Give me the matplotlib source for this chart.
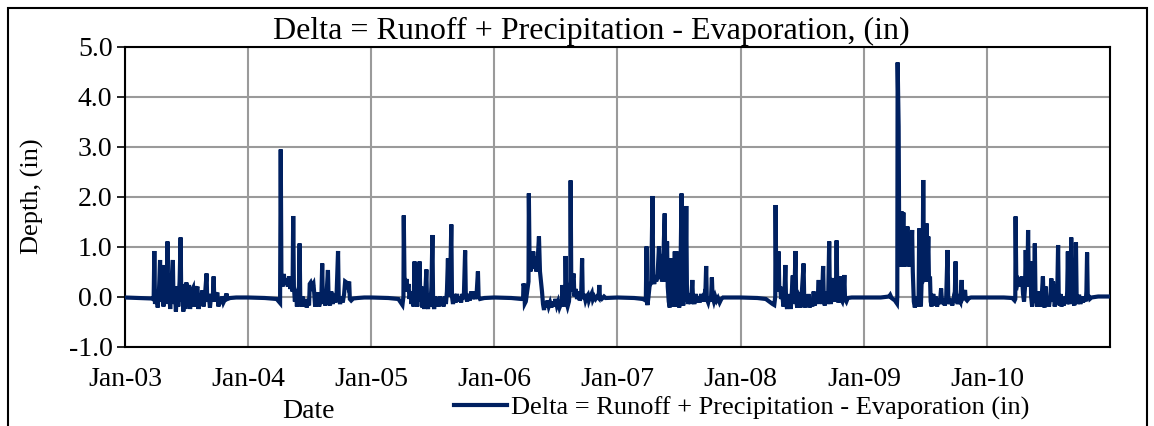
import datetime as dt
import matplotlib
matplotlib.use("Agg")
import matplotlib.pyplot as plt
from matplotlib.patches import Rectangle
from matplotlib.ticker import FixedLocator, FuncFormatter

plt.rcParams['font.family'] = ['Liberation Serif', 'DejaVu Serif']

# (day of year, depth in inches), one list per year
y2003 = [(0,-0.02),(45,-0.03),(80,-0.04),(85,-0.06),(87,0.91),(89,-0.15),(94,0.1),(97,-0.22),(101,0.15),(104,0.73),(106,-0.1),(109,0.05),(112,0.63),(114,-0.2),(118,0.2),(121,-0.15),(124,0.3),(126,1.10),(128,-0.1),(131,0.2),(134,-0.25),(138,0.3),(142,0.73),(144,-0.15),(148,0.1),(151,-0.3),(155,0.2),(158,-0.2),(162,0.3),(165,1.18),(167,-0.1),(170,0.25),(173,-0.3),(176,0.2),(179,-0.25),(182,0.28),(185,-0.2),(188,0.15),(190,0.23),(193,-0.25),(197,0.1),(202,0.17),(205,-0.2),(209,0.1),(215,0.2),(218,-0.25),(222,0.05),(226,-0.15),(229,0.12),(233,-0.2),(237,0.0),(242,0.46),(244,-0.1),(248,0.05),(252,-0.22),(256,0.05),(260,-0.1),(263,0.40),(265,-0.1),(269,0.0),(274,0.08),(277,-0.2),(281,-0.05),(285,-0.15),(288,0.0),(292,-0.12),(297,-0.05),(301,0.06),(304,-0.05),(312,-0.03),(330,-0.02),(364,-0.02)]
y2004 = [(0,-0.02),(50,-0.03),(85,-0.05),(95,-0.13),(97,2.94),(99,0.4),(103,0.2),(106,0.45),(110,0.25),(114,0.35),(118,0.2),(122,0.4),(126,0.15),(130,0.35),(132,0.1),(134,1.61),(136,0.2),(139,-0.1),(142,0.15),(145,-0.2),(148,0.05),(151,0.2),(153,1.06),(155,-0.1),(158,-0.2),(162,0.0),(166,-0.2),(170,-0.05),(174,-0.22),(178,-0.1),(181,-0.18),(183,0.25),(186,0.28),(190,0.2),(194,0.25),(196,0.1),(199,-0.2),(202,0.05),(205,-0.18),(208,0.08),(211,-0.2),(214,-0.05),(217,-0.15),(220,0.66),(222,-0.1),(226,0.0),(229,-0.18),(233,0.05),(237,0.53),(239,-0.05),(243,-0.18),(247,0.1),(251,-0.15),(255,0.05),(259,-0.12),(263,0.1),(267,0.91),(269,0.0),(273,-0.15),(277,0.0),(281,-0.12),(285,0.05),(288,0.3),(292,0.28),(296,0.2),(300,0.3),(302,-0.05),(306,-0.08),(312,-0.04),(325,-0.03),(345,-0.02),(365,-0.02)]
y2005 = [(0,-0.02),(50,-0.03),(80,-0.05),(92,-0.17),(95,0.0),(96,1.62),(98,0.4),(101,0.2),(104,0.35),(107,0.1),(110,0.25),(113,-0.05),(116,0.1),(119,-0.15),(122,0.0),(125,-0.2),(128,0.70),(130,-0.05),(133,0.15),(136,-0.2),(139,0.1),(143,0.70),(145,-0.1),(148,0.2),(151,-0.22),(154,0.0),(157,-0.25),(160,0.1),(163,0.54),(165,-0.1),(168,-0.25),(172,0.05),(175,-0.2),(178,0.2),(181,1.23),(183,-0.1),(186,-0.25),(190,0.0),(193,-0.2),(196,-0.05),(200,-0.2),(204,0.0),(207,-0.18),(211,-0.05),(214,-0.2),(218,0.0),(221,-0.15),(224,0.1),(227,0.76),(229,0.0),(233,0.1),(237,1.44),(239,0.0),(242,-0.15),(246,0.05),(250,-0.12),(254,0.05),(258,-0.1),(262,0.0),(266,-0.12),(270,0.05),(274,-0.05),(278,0.92),(280,0.0),(284,-0.1),(288,0.05),(292,-0.08),(296,0.1),(300,-0.05),(304,0.1),(308,-0.05),(312,0.05),(316,0.5),(318,0.0),(322,-0.05),(335,-0.03),(364,-0.02)]
y2006 = [(0,-0.02),(50,-0.03),(80,-0.05),(85,-0.04),(86,0.26),(88,0.2),(90,-0.14),(93,-0.1),(101,0.3),(102,2.06),(104,0.8),(107,0.5),(109,0.85),(112,0.6),(115,0.9),(118,0.55),(121,0.8),(124,0.5),(128,0.7),(132,1.2),(135,0.5),(138,0.3),(141,0.1),(144,-0.15),(147,-0.27),(150,-0.1),(153,-0.22),(157,-0.08),(161,-0.2),(165,-0.12),(169,-0.22),(173,-0.1),(177,-0.2),(181,-0.05),(185,-0.18),(189,-0.1),(193,-0.22),(197,-0.15),(200,-0.2),(201,0.23),(203,-0.1),(207,-0.2),(210,0.0),(211,0.81),(213,-0.1),(217,-0.2),(221,-0.1),(225,0.3),(226,2.32),(228,0.1),(231,0.3),(235,0.46),(237,0.0),(241,0.15),(245,-0.05),(249,0.1),(253,-0.08),(257,0.0),(260,0.76),(262,-0.05),(266,0.05),(270,-0.08),(274,0.0),(277,0.03),(280,-0.08),(284,0.0),(289,0.07),(292,-0.06),(296,0.0),(300,-0.05),(305,0.0),(309,-0.03),(311,0.23),(313,-0.02),(318,-0.05),(325,0.0),(330,-0.03),(364,-0.02)]
y2007 = [(0,-0.02),(50,-0.03),(75,-0.05),(84,-0.08),(86,1.0),(87,-0.1),(89,-0.17),(92,0.0),(95,0.2),(100,0.3),(104,2.01),(106,0.33),(109,0.25),(112,0.4),(115,0.3),(119,0.45),(123,1.0),(125,0.35),(128,0.4),(130,0.85),(132,0.3),(135,0.5),(140,1.66),(142,0.4),(145,0.3),(147,1.1),(149,0.2),(152,-0.1),(155,-0.22),(158,0.3),(160,0.76),(162,-0.2),(165,0.3),(168,-0.15),(170,0.9),(172,-0.2),(175,0.9),(177,-0.2),(180,0.2),(183,-0.22),(186,0.1),(190,2.06),(192,0.0),(195,-0.18),(198,0.1),(201,-0.1),(204,1.81),(206,0.1),(209,-0.15),(213,0.05),(217,-0.15),(220,0.1),(222,0.33),(224,-0.05),(228,-0.15),(232,0.05),(236,-0.12),(240,0.0),(244,-0.12),(248,0.05),(252,-0.1),(256,0.0),(260,-0.1),(263,0.61),(265,-0.05),(269,-0.12),(273,0.0),(277,-0.1),(280,0.38),(282,0.0),(286,-0.1),(290,0.0),(294,-0.08),(298,-0.03),(303,-0.12),(308,-0.05),(313,-0.02),(330,-0.02),(364,-0.02)]
y2008 = [(0,-0.02),(50,-0.03),(75,-0.05),(85,-0.1),(95,-0.15),(100,-0.17),(103,0.0),(104,1.83),(106,0.2),(108,0.1),(111,0.3),(113,0.9),(115,0.1),(118,0.2),(120,-0.05),(124,0.05),(127,-0.2),(130,0.0),(133,0.63),(135,-0.1),(138,-0.25),(141,0.05),(144,-0.2),(146,0.0),(149,-0.25),(152,0.1),(155,0.42),(157,-0.15),(160,0.1),(163,0.91),(165,-0.05),(168,-0.22),(171,0.05),(175,0.0),(178,-0.22),(182,0.1),(187,0.66),(189,-0.1),(192,-0.22),(196,0.0),(199,-0.2),(202,0.05),(205,-0.22),(209,-0.05),(213,-0.2),(217,0.1),(220,-0.18),(224,0.0),(228,-0.15),(232,0.33),(234,-0.1),(238,0.0),(241,-0.15),(245,0.61),(247,-0.05),(250,-0.18),(254,0.1),(257,-0.15),(260,0.0),(263,1.1),(265,0.0),(268,-0.15),(271,0.1),(274,0.37),(276,-0.1),(280,0.0),(283,0.1),(285,1.12),(287,0.1),(290,-0.12),(293,0.0),(296,0.4),(298,-0.05),(302,-0.1),(305,0.0),(308,0.43),(310,-0.05),(314,-0.1),(318,-0.03),(330,-0.02),(365,-0.02)]
y2009 = [(0,-0.02),(50,-0.02),(75,0.0),(78,0.03),(82,-0.03),(92,-0.08),(98,-0.14),(99,0.0),(100,4.68),(103,3.4),(105,0.66),(108,0.7),(111,0.6),(112,1.7),(114,0.65),(117,1.68),(119,0.6),(121,0.8),(124,0.7),(127,0.7),(129,1.4),(131,0.6),(134,0.7),(136,0.9),(139,0.6),(143,1.33),(145,0.5),(148,-0.1),(151,-0.22),(155,-0.1),(159,0.0),(162,-0.2),(164,1.36),(166,-0.1),(169,-0.2),(171,0.25),(174,0.3),(176,2.33),(178,0.3),(181,0.4),(184,0.3),(186,1.46),(188,0.4),(191,1.2),(193,0.3),(196,0.4),(198,-0.1),(201,-0.2),(204,0.0),(206,0.05),(209,-0.18),(213,0.0),(217,-0.2),(221,-0.05),(225,-0.15),(229,0.16),(232,-0.15),(236,-0.05),(240,-0.18),(244,-0.05),(248,0.93),(250,0.0),(254,-0.15),(258,-0.05),(262,-0.18),(266,-0.05),(269,-0.12),(272,0.7),(274,0.0),(278,-0.15),(282,-0.05),(286,-0.1),(290,0.33),(292,-0.05),(296,0.0),(300,0.13),(302,-0.05),(306,-0.08),(312,-0.03),(318,-0.02),(340,-0.02),(364,-0.02)]
y2010 = [(0,-0.02),(50,-0.02),(75,-0.03),(82,-0.08),(84,-0.05),(85,1.6),(87,0.3),(90,0.25),(93,0.35),(95,0.33),(98,0.2),(101,0.3),(104,0.4),(107,0.05),(110,-0.1),(113,0.2),(115,0.93),(117,0.3),(120,0.2),(122,1.33),(124,0.3),(127,0.2),(129,0.7),(131,0.0),(134,-0.2),(137,0.05),(140,0.2),(142,1.06),(144,0.0),(147,-0.1),(149,-0.2),(152,0.0),(156,0.1),(159,-0.2),(162,-0.05),(166,0.4),(168,-0.1),(171,-0.22),(174,0.2),(177,-0.15),(181,0.0),(184,-0.2),(188,0.0),(191,0.36),(193,-0.1),(196,0.3),(198,0.1),(201,-0.2),(205,0.0),(208,-0.15),(211,1.03),(213,-0.05),(216,-0.18),(218,0.05),(221,-0.2),(225,-0.05),(228,-0.18),(232,0.0),(236,-0.15),(238,0.1),(240,0.9),(242,-0.1),(245,-0.15),(248,0.3),(250,1.18),(252,0.3),(254,0.75),(256,-0.1),(259,-0.18),(262,0.1),(264,1.08),(266,0.0),(269,-0.15),(272,0.0),(274,0.0),(277,-0.15),(281,0.0),(285,-0.12),(289,0.0),(293,-0.1),(295,0.1),(297,0.88),(299,0.0),(302,0.0),(305,-0.05),(310,-0.02),(330,0.0),(364,0.0)]

years = [2003, 2004, 2005, 2006, 2007, 2008, 2009, 2010]
yearly = [y2003, y2004, y2005, y2006, y2007, y2008, y2009, y2010]
tick_labels = ["Jan-03", "Jan-04", "Jan-05", "Jan-06", "Jan-07", "Jan-08", "Jan-09", "Jan-10"]
y_ticks = [-1.0, 0.0, 1.0, 2.0, 3.0, 4.0, 5.0]

dates, values = [], []
for yr, pts in zip(years, yearly):
    for d, v in pts:
        dates.append(dt.datetime(yr, 1, 1) + dt.timedelta(days=d))
        values.append(v)

W, H = 1154, 426
fig = plt.figure(figsize=(W / 100, H / 100), dpi=100)
ax = fig.add_axes([125 / W, (H - 346.5) / H, 985 / W, 300 / H])

line_color = '#002060'
ax.plot(dates, values, color=line_color, lw=3.0, solid_joinstyle='miter',
        label="Delta = Runoff + Precipitation - Evaporation (in)", zorder=3)

ax.set_xlim(dt.datetime(2003, 1, 1), dt.datetime(2011, 1, 1))
ax.set_ylim(-1.0, 5.0)
tick_dates = [dt.datetime(y, 1, 1) for y in years]
ax.set_xticks(tick_dates)
ax.set_xticklabels(tick_labels)
ax.yaxis.set_major_locator(FixedLocator(y_ticks))
ax.yaxis.set_major_formatter(FuncFormatter(lambda v, p: f"{v:.1f}"))

ax.grid(True, color='#9a9a9a', lw=1.5, zorder=0)
ax.set_axisbelow(True)
for s in ax.spines.values():
    s.set_color('black')
    s.set_linewidth(1.5)
ax.tick_params(axis='y', direction='out', length=6, width=1.2, labelsize=20, pad=3)
ax.tick_params(axis='x', length=0, labelsize=20, pad=15)

fig.text(591 / W, 1 - 31 / H, "Delta = Runoff + Precipitation - Evaporation, (in)",
         fontsize=23, ha='center', va='center')
ax.set_ylabel("Depth, (in)", fontsize=19, labelpad=18)
fig.text(308 / W, 1 - 411 / H, "Date", fontsize=20, ha='center', va='center')

ax.legend(loc='center', bbox_to_anchor=(742 / W, 1 - 408 / H), bbox_transform=fig.transFigure,
          frameon=False, fontsize=19, handlelength=2.0, handletextpad=0.15, borderpad=0)

fig.patches.append(Rectangle((8 / W, -0.1), (1147 - 8) / W, 1.1 - 8 / H,
                             transform=fig.transFigure, fill=False, edgecolor='black', lw=1.5))

fig.savefig("out.png", dpi=100)
